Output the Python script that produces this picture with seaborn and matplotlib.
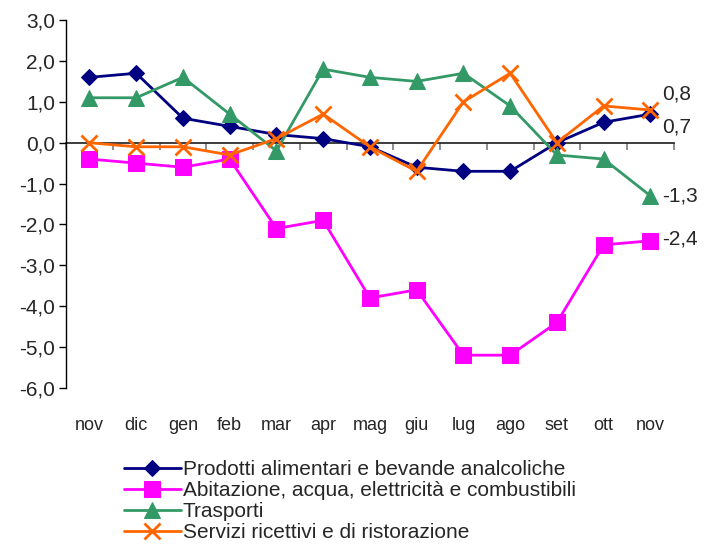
import numpy as np
import pandas as pd
import matplotlib
matplotlib.use("Agg")
import matplotlib.pyplot as plt
import seaborn as sns
from matplotlib.ticker import FuncFormatter

# ---- data ----
months = ["nov", "dic", "gen", "feb", "mar", "apr", "mag", "giu",
          "lug", "ago", "set", "ott", "nov"]
prodotti = [1.6, 1.7, 0.6, 0.4, 0.2, 0.1, -0.1, -0.6, -0.7, -0.7, 0.0, 0.5, 0.7]
abitazione = [-0.4, -0.5, -0.6, -0.4, -2.1, -1.9, -3.8, -3.6, -5.2, -5.2, -4.4, -2.5, -2.4]
trasporti = [1.1, 1.1, 1.6, 0.7, -0.2, 1.8, 1.6, 1.5, 1.7, 0.9, -0.3, -0.4, -1.3]
servizi = [0.0, -0.1, -0.1, -0.3, 0.1, 0.7, -0.1, -0.7, 1.0, 1.7, 0.0, 0.9, 0.8]

series_names = ["Prodotti alimentari e bevande analcoliche",
                "Abitazione, acqua, elettricità e combustibili",
                "Trasporti",
                "Servizi ricettivi e di ristorazione"]
end_labels = ["0,7", "-2,4", "-1,3", "0,8"]

sns.set_theme(style="white")
plt.rcParams["font.family"] = ["Liberation Sans", "DejaVu Sans"]

fig = plt.figure(figsize=(7.1, 5.44), dpi=100)
ax = fig.add_axes([0.093, 0.287, 0.856, 0.676])

x = np.arange(len(months))
styles = [
    dict(color="#000080", marker="D", markersize=8),
    dict(color="#FF00FF", marker="s", markersize=11),
    dict(color="#339966", marker="^", markersize=11),
    dict(color="#FF6600", marker="x", markersize=11, markeredgewidth=2),
]
for name, vals, st in zip(series_names, [prodotti, abitazione, trasporti, servizi], styles):
    sns.lineplot(x=x, y=vals, ax=ax, label=name, linewidth=2,
                 markeredgecolor=st["color"], **st)

ax.set_xlim(-0.5, len(months) - 0.5)
ax.set_ylim(-6, 3)
ax.set_yticks(np.arange(-6, 3.1, 1))
ax.yaxis.set_major_formatter(FuncFormatter(lambda v, p: f"{v:.1f}".replace(".", ",")))
ax.set_xticks(x)
ax.set_xticklabels(months)
ax.tick_params(axis="x", length=0, pad=21, labelsize=13)
ax.tick_params(axis="y", left=True, length=5, width=1, color="black", labelsize=15, pad=3)

for s in ["top", "right", "bottom"]:
    ax.spines[s].set_visible(False)
ax.spines["left"].set_color("black")
ax.spines["left"].set_linewidth(1)

# zero line with category ticks
sec = ax.secondary_xaxis(6 / 9)
sec.set_xticks(np.arange(-0.5, len(months), 1))
sec.tick_params(axis="x", direction="out", length=5, color="#808080", labelbottom=False,
                labeltop=False, bottom=True, top=False)
sec.spines["bottom"].set_color("#808080")
sec.spines["bottom"].set_linewidth(1.5)
sec.xaxis.set_ticks_position("bottom")
sec.set_xticklabels([])

# end labels
final_vals = [prodotti[-1], abitazione[-1], trasporti[-1], servizi[-1]]
offsets = [-0.32, 0.05, 0.0, 0.38]
for lab, v, off in zip(end_labels, final_vals, offsets):
    ax.text(12.25, v + off, lab, fontsize=15, va="center", ha="left")

leg = ax.legend(loc="upper left", bbox_to_anchor=(0.089, -0.185), frameon=False,
                fontsize=15, handlelength=2.7, handletextpad=0.1,
                labelspacing=0.1, borderaxespad=0, borderpad=0.2)

fig.savefig("out.png", dpi=100)
